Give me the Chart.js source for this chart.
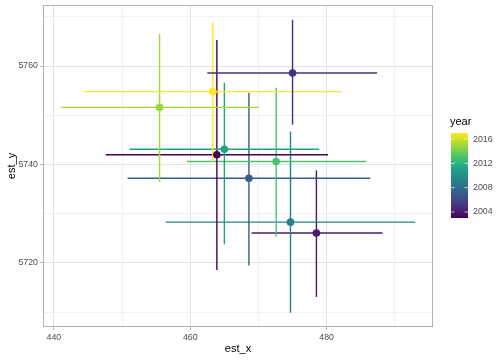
<!DOCTYPE html>
<html>
<head>
<meta charset="utf-8">
<script src="https://cdn.jsdelivr.net/npm/chart.js@4.4.1/dist/chart.umd.min.js"></script>
<style>
  html, body { margin: 0; padding: 0; background: #ffffff; }
  #wrap { width: 504px; height: 360px; }
</style>
</head>
<body>
<div id="wrap"><canvas id="chart" width="504" height="360"></canvas></div>
<script>
// --- data ---
const years = [2005, 2017, 2015, 2011, 2003, 2013, 2007, 2009, 2004];
const estX  = [475.0, 463.3, 455.5, 465.0, 463.9, 472.6, 468.6, 474.7, 478.5];
const estY  = [5758.6, 5754.8, 5751.6, 5743.1, 5742.0, 5740.6, 5737.2, 5728.3, 5726.1];
const xLow  = [462.5, 444.5, 441.0, 451.1, 447.6, 459.5, 450.8, 456.4, 469.0];
const xHigh = [487.4, 482.1, 470.0, 478.9, 480.2, 485.8, 486.4, 493.0, 488.2];
const yLow  = [5748.1, 5740.5, 5736.4, 5723.8, 5718.6, 5725.4, 5719.5, 5709.9, 5713.1];
const yHigh = [5769.4, 5768.9, 5766.5, 5756.6, 5765.3, 5755.6, 5754.6, 5746.7, 5738.8];

const xTicks = [440, 460, 480];
const xMinor = [450, 470, 490];
const yTicks = [5720, 5740, 5760];
const yMinor = [5710, 5730, 5750, 5770];
const legendBreaks = [2004, 2008, 2012, 2016];
const yearMin = 2003, yearMax = 2017;

// viridis, 11 stops
const viridis = ["#440154","#482576","#414487","#35608D","#2A788E","#21908C",
                 "#22A884","#43BF71","#7AD151","#BBDF27","#FDE725"];

function hexRgb(h) {
    return [parseInt(h.slice(1,3),16), parseInt(h.slice(3,5),16), parseInt(h.slice(5,7),16)];
}
function yearColor(yr) {
    let t = (yr - yearMin) / (yearMax - yearMin);
    t = Math.max(0, Math.min(1, t)) * (viridis.length - 1);
    const i = Math.min(Math.floor(t), viridis.length - 2);
    const f = t - i;
    const a = hexRgb(viridis[i]), b = hexRgb(viridis[i+1]);
    const c = a.map((v, k) => Math.round(v + (b[k] - v) * f));
    return `rgb(${c[0]},${c[1]},${c[2]})`;
}

// --- datasets ---
const datasets = [];
years.forEach((yr, i) => {
    const col = yearColor(yr);
    datasets.push({
        type: 'scatter', showLine: true, order: 1,
        data: [{x: xLow[i], y: estY[i]}, {x: xHigh[i], y: estY[i]}],
        borderColor: col, borderWidth: 1.4, pointRadius: 0
    });
    datasets.push({
        type: 'scatter', showLine: true, order: 1,
        data: [{x: estX[i], y: yLow[i]}, {x: estX[i], y: yHigh[i]}],
        borderColor: col, borderWidth: 1.4, pointRadius: 0
    });
});
datasets.push({
    type: 'scatter', order: 0,
    data: years.map((yr, i) => ({x: estX[i], y: estY[i]})),
    backgroundColor: years.map(yearColor),
    borderWidth: 0, pointRadius: 3.8
});

// --- panel border + colour bar legend ---
const extras = {
    id: 'extras',
    afterDraw(chart) {
        const ctx = chart.ctx, a = chart.chartArea;
        ctx.save();
        ctx.strokeStyle = '#b3b3b3';
        ctx.lineWidth = 1;
        ctx.strokeRect(a.left + 0.5, a.top + 0.5, a.right - a.left - 1, a.bottom - a.top - 1);

        // legend
        const bx = 451, bw = 17, top = 133, bottom = 218;
        ctx.fillStyle = '#000000';
        ctx.font = '11px "Liberation Sans", Arial, sans-serif';
        ctx.textBaseline = 'middle';
        ctx.textAlign = 'left';
        ctx.fillText('year', 450, 122);

        const g = ctx.createLinearGradient(0, bottom, 0, top);
        viridis.forEach((c, k) => g.addColorStop(k / (viridis.length - 1), c));
        ctx.fillStyle = g;
        ctx.fillRect(bx, top, bw, bottom - top);

        ctx.font = '8.8px "Liberation Sans", Arial, sans-serif';
        legendBreaks.forEach(b => {
            const y = bottom - (b - yearMin) / (yearMax - yearMin) * (bottom - top);
            ctx.strokeStyle = 'rgba(255,255,255,0.9)';
            ctx.lineWidth = 0.8;
            ctx.beginPath();
            ctx.moveTo(bx, y); ctx.lineTo(bx + 3.4, y);
            ctx.moveTo(bx + bw - 3.4, y); ctx.lineTo(bx + bw, y);
            ctx.stroke();
            ctx.fillStyle = '#4d4d4d';
            ctx.fillText(String(b), 473, y);
        });
        ctx.restore();
    }
};

function gridOpts(major) {
    return {
        color: c => major.includes(c.tick.value) ? '#e3e3e3' : '#f1f1f1',
        lineWidth: 1,
        tickLength: 3,
        tickColor: c => major.includes(c.tick.value) ? '#b3b3b3' : 'rgba(0,0,0,0)',
        drawTicks: true
    };
}

new Chart(document.getElementById('chart'), {
    type: 'scatter',
    data: { datasets },
    plugins: [extras],
    options: {
        responsive: false,
        animation: false,
        layout: { padding: { top: 5, right: 71, left: 0, bottom: 0 } },
        plugins: { legend: { display: false }, tooltip: { enabled: false } },
        scales: {
            x: {
                type: 'linear', min: 438.4, max: 495.6,
                afterBuildTicks: s => { s.ticks = xTicks.concat(xMinor).sort((p, q) => p - q).map(v => ({value: v})); },
                afterFit: s => { s.height = 33; s.paddingLeft = 0; s.paddingRight = 0; },
                border: { display: false },
                grid: gridOpts(xTicks),
                ticks: {
                    autoSkip: false, maxRotation: 0, padding: 2,
                    color: '#4d4d4d',
                    font: { family: '"Liberation Sans", Arial, sans-serif', size: 8.8 },
                    callback: v => xTicks.includes(v) ? String(v) : ''
                },
                title: {
                    display: true, text: 'est_x', color: '#000000',
                    font: { family: '"Liberation Sans", Arial, sans-serif', size: 11 },
                    padding: { top: 0, bottom: 4 }
                }
            },
            y: {
                type: 'linear', min: 5707.0, max: 5772.4,
                afterBuildTicks: s => { s.ticks = yTicks.concat(yMinor).sort((p, q) => p - q).map(v => ({value: v})); },
                afterFit: s => { s.width = 43; s.paddingTop = 0; s.paddingBottom = 0; },
                border: { display: false },
                grid: gridOpts(yTicks),
                ticks: {
                    autoSkip: false, padding: 2,
                    color: '#4d4d4d',
                    font: { family: '"Liberation Sans", Arial, sans-serif', size: 8.8 },
                    callback: v => yTicks.includes(v) ? String(v) : ''
                },
                title: {
                    display: true, text: 'est_y', color: '#000000',
                    font: { family: '"Liberation Sans", Arial, sans-serif', size: 11 },
                    padding: { top: 5, bottom: 0 }
                }
            }
        }
    }
});
</script>
</body>
</html>
